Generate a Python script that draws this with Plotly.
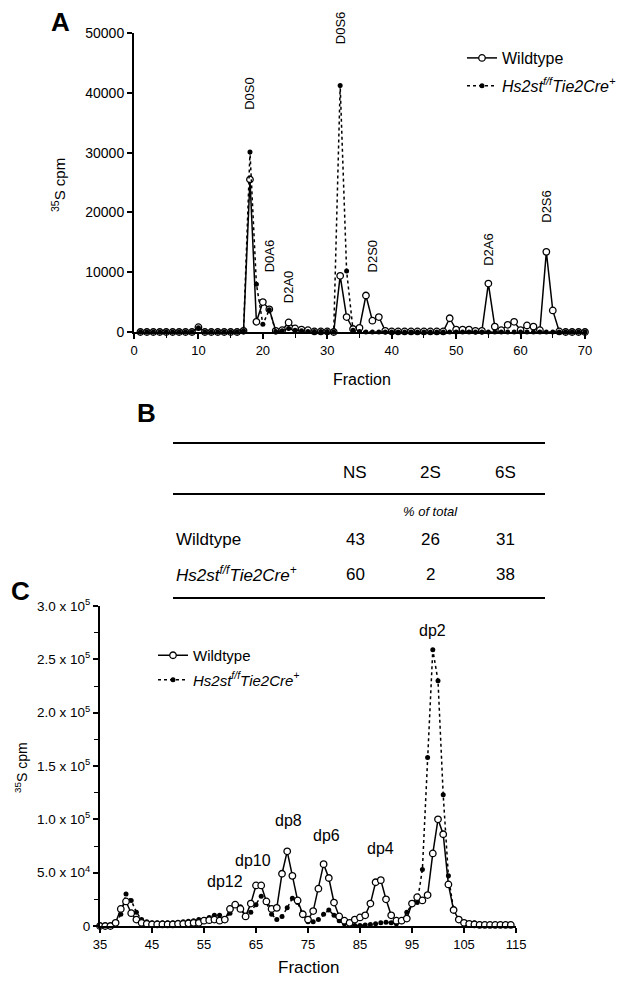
import plotly.graph_objects as go

W, H = 633, 986          # browser window
OFF = 8                  # default body margin of the html page
FW, FH = W - 2 * OFF, H - 2 * OFF
FONT = "Liberation Sans, Arial, sans-serif"

# ---------------- Panel A data ----------------
frac_A = list(range(1, 71))
wt_A = [0, 0, 0, 0, 0, 0, 0, 0, 0, 800,
        0, 0, 0, 0, 0, 0, 200, 25500, 1700, 5000,
        3800, 200, 300, 1600, 600, 400, 300, 100, 100, 100,
        0, 9400, 2500, 500, 700, 6100, 1900, 2500, 200, 100,
        100, 100, 100, 100, 100, 100, 100, 100, 2300, 400,
        400, 400, 200, 200, 8100, 900, 300, 1200, 1700, 300,
        1100, 900, 300, 13400, 3600, 100, 0, 0, 0, 0]
mut_A = [0, 0, 0, 0, 0, 0, 0, 0, 0, 700,
         0, 0, 0, 0, 0, 0, 200, 30100, 8000, 1300,
         3700, 100, 200, 600, 300, 200, 100, 100, 100, 100,
         0, 41200, 10200, 300, 100, 0, 0, 0, 0, 0,
         0, 0, 0, 0, 0, 0, 0, 0, 0, 0,
         0, 0, 0, 0, 0, 0, 0, 0, 0, 0,
         0, 0, 0, 0, 0, 0, 0, 0, 0, 0]
peak_labels_A = ["D0S0", "D0A6", "D2A0", "D2S0", "D2A6", "D2S6"]
peak_x_A = [18, 21, 24, 37, 55, 64]
peak_y_A = [40000, 12700, 7600, 12700, 13800, 21000]
top_label_A = "D0S6"
top_label_x_A = 32

# ---------------- Panel B data ----------------
table_cols = ["NS", "2S", "6S"]
table_rows = ["Wildtype", "<i>Hs2st<sup>f/f</sup>Tie2Cre<sup>+</sup></i>"]
table_vals = [[43, 26, 31], [60, 2, 38]]

# ---------------- Panel C data ----------------
frac_C = list(range(35, 115))
wt_C = [0, 0, 0, 3000, 16000, 23000, 12000, 6000, 3000, 2000,
        1500, 1500, 1500, 1500, 1500, 2000, 2000, 2500, 3000, 3000,
        5000, 5500, 6000, 5000, 6000, 16000, 20000, 16000, 9000, 21000,
        38000, 38000, 23000, 16000, 17000, 49000, 70000, 47000, 24000, 11000,
        6000, 14000, 35000, 58000, 45000, 22000, 9000, 5000, 3000, 6000,
        8000, 10000, 21000, 41000, 43000, 25000, 10000, 5000, 5000, 7000,
        21000, 27000, 24000, 29000, 68000, 100000, 86000, 39000, 15000, 6000,
        3000, 2000, 1500, 1000, 1000, 1000, 1000, 1000, 1000, 1000]
mut_C = [0, 0, 0, 1000, 11000, 30000, 24000, 13000, 6000, 4000,
         3000, 3000, 3000, 3000, 3000, 3500, 4000, 4500, 5000, 6000,
         6000, 8000, 10000, 10000, 7000, 12000, 20000, 18000, 9000, 13000,
         20000, 28000, 22000, 11000, 6000, 9000, 17000, 26000, 22000, 10000,
         4000, 4000, 6000, 11000, 15000, 10000, 5000, 2000, 1000, 500,
         500, 1000, 1500, 2000, 3000, 3500, 3000, 2000, 4000, 13000,
         20000, 22000, 53000, 158000, 259000, 230000, 123000, 47000, 15000, 6000,
         3000, 2000, 3000, 2000, 1000, 500, 500, 500, 500, 500]
peak_labels_C = ["dp12", "dp10", "dp8", "dp6", "dp4", "dp2"]
peak_x_C = [59, 64.4, 71.2, 78.6, 89, 99]
peak_y_C = [41500, 61000, 99000, 85000, 73000, 277000]
ytick_C = [0, 50000, 100000, 150000, 200000, 250000, 300000]
ytext_C = ["0", "5.0 x 10<sup>4</sup>", "1.0 x 10<sup>5</sup>", "1.5 x 10<sup>5</sup>",
           "2.0 x 10<sup>5</sup>", "2.5 x 10<sup>5</sup>", "3.0 x 10<sup>5</sup>"]

assert len(wt_A) == len(frac_A) == len(mut_A)
assert len(wt_C) == len(frac_C) == len(mut_C)


def px(x):
    return (x - OFF) / FW


def py(y):
    return 1 - (y - OFF) / FH


fig = go.Figure()

wt_marker = dict(symbol="circle", size=6.5, color="white", line=dict(color="black", width=1.3))
mut_marker = dict(symbol="circle", size=5, color="black", line=dict(color="black", width=0))
mut_label = "<i>Hs2st<sup>f/f</sup>Tie2Cre<sup>+</sup></i>"

# Panel A traces
fig.add_trace(go.Scatter(x=frac_A, y=wt_A, mode="lines+markers", name="Wildtype",
                         line=dict(color="black", width=1.5), marker=wt_marker,
                         xaxis="x", yaxis="y", legend="legend", legendgroup="a1", cliponaxis=False))
fig.add_trace(go.Scatter(x=frac_A, y=mut_A, mode="lines+markers", name=mut_label,
                         line=dict(color="black", width=1.5, dash="dot"), marker=mut_marker,
                         xaxis="x", yaxis="y", legend="legend", legendgroup="a2", cliponaxis=False))
# Panel C traces
fig.add_trace(go.Scatter(x=frac_C, y=mut_C, mode="lines+markers", name=mut_label,
                         line=dict(color="black", width=1.5, dash="dot"), marker=mut_marker,
                         xaxis="x2", yaxis="y2", legend="legend2", legendgroup="c2",
                         cliponaxis=False, legendrank=2))
fig.add_trace(go.Scatter(x=frac_C, y=wt_C, mode="lines+markers", name="Wildtype",
                         line=dict(color="black", width=1.5), marker=wt_marker,
                         xaxis="x2", yaxis="y2", legend="legend2", legendgroup="c1",
                         cliponaxis=False, legendrank=1))

axis_common = dict(showline=True, linecolor="black", linewidth=2, ticks="outside",
                   ticklen=5, tickwidth=1.5, tickcolor="black", showgrid=False,
                   zeroline=False, automargin=False)

fig.update_layout(
    width=FW, height=FH, margin=dict(l=0, r=0, t=0, b=0),
    paper_bgcolor="white", plot_bgcolor="white",
    font=dict(family=FONT, color="black"),
    xaxis=dict(domain=[px(134), px(585)], range=[0, 70], anchor="y",
               tickvals=[0, 10, 20, 30, 40, 50, 60, 70],
               tickfont=dict(family=FONT, size=13, color="black"),
               minor=dict(dtick=5, tick0=0, ticks="outside", ticklen=4, tickcolor="black", tickwidth=1.2),
               **axis_common),
    yaxis=dict(domain=[py(332), py(33)], range=[0, 50000], anchor="x",
               tickvals=[0, 10000, 20000, 30000, 40000, 50000], tickformat="d",
               tickfont=dict(family=FONT, size=14, color="black"),
               **axis_common),
    xaxis2=dict(domain=[px(100), px(516)], range=[35, 115], anchor="y2",
                tickvals=[35, 45, 55, 65, 75, 85, 95, 105, 115],
                tickfont=dict(family=FONT, size=13, color="black"),
                **axis_common),
    yaxis2=dict(domain=[py(926), py(606)], range=[0, 300000], anchor="x2",
                tickvals=ytick_C, ticktext=ytext_C,
                tickfont=dict(family=FONT, size=13.5, color="black"),
                minor=dict(dtick=25000, tick0=0, ticks="outside", ticklen=4, tickcolor="black", tickwidth=1.2),
                **axis_common),
    legend=dict(x=px(462), y=py(41), xanchor="left", yanchor="top",
                font=dict(family=FONT, size=16, color="black"),
                bgcolor="rgba(0,0,0,0)", itemwidth=30,
                traceorder="grouped", tracegroupgap=4),
    legend2=dict(x=px(153), y=py(639), xanchor="left", yanchor="top",
                 font=dict(family=FONT, size=15, color="black"),
                 bgcolor="rgba(0,0,0,0)", itemwidth=30,
                 traceorder="grouped", tracegroupgap=2),
    showlegend=True,
)


def pann(text, x, y, size, angle=0, xanchor="center"):
    return dict(text=text, x=px(x), y=py(y), xref="paper", yref="paper",
                xanchor=xanchor, yanchor="middle", textangle=angle, showarrow=False,
                font=dict(family=FONT, size=size, color="black"))


ann = []
# Panel letters
for letter, x, y in [("A", 60, 22), ("B", 146, 413), ("C", 20, 591)]:
    ann.append(pann(f"<b>{letter}</b>", x, y, 26))
# Axis titles
ann.append(pann("<sup>35</sup>S cpm", 58, 185, 15, angle=-90))
ann.append(pann("Fraction", 362, 380, 16))
ann.append(pann("<sup>35</sup>S cpm", 21, 768, 14, angle=-90))
ann.append(pann("Fraction", 308, 967, 17))
# Peak labels A
for t, x, y in zip(peak_labels_A, peak_x_A, peak_y_A):
    ann.append(dict(text=t, x=x, y=y, xref="x", yref="y", xanchor="center", yanchor="middle",
                    textangle=-90, showarrow=False, font=dict(family=FONT, size=13)))
ann.append(dict(text=top_label_A, x=top_label_x_A, y=py(28), xref="x", yref="paper",
                xanchor="center", yanchor="middle", textangle=-90, showarrow=False,
                font=dict(family=FONT, size=13)))
# Peak labels C
for t, x, y in zip(peak_labels_C, peak_x_C, peak_y_C):
    ann.append(dict(text=t, x=x, y=y, xref="x2", yref="y2", xanchor="center", yanchor="middle",
                    showarrow=False, font=dict(family=FONT, size=16)))

# Table B
col_x = [355, 430, 505]
for c, x in zip(table_cols, col_x):
    ann.append(pann(c, x, 472, 17))
ann.append(pann("<i>% of total</i>", 430, 511, 13))
row_y = [539, 574]
for r, y, vals in zip(table_rows, row_y, table_vals):
    ann.append(pann(r, 174, y, 17, xanchor="left"))
    for v, x in zip(vals, col_x):
        ann.append(pann(str(v), x, y, 17))
fig.update_layout(annotations=ann)

shapes = []
for y0 in [443, 494, 598]:
    shapes.append(dict(type="line", xref="paper", yref="paper", x0=px(173), x1=px(545),
                       y0=py(y0), y1=py(y0), line=dict(color="black", width=2)))
fig.update_layout(shapes=shapes)

fig.write_html("out.html")
